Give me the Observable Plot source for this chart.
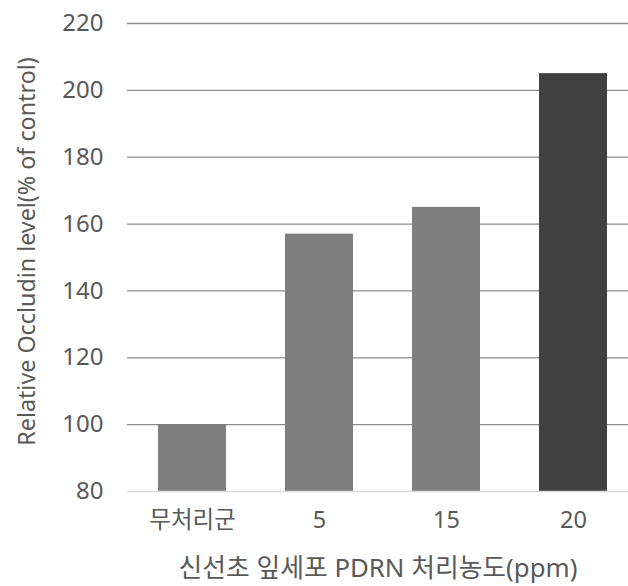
<!DOCTYPE html>
<html>
<head>
<meta charset="utf-8">
<script src="https://cdn.jsdelivr.net/npm/d3@7"></script>
<script src="https://cdn.jsdelivr.net/npm/@observablehq/plot@0.6"></script>
<style>
  html, body { margin: 0; padding: 0; background: #fff; }
  #chart svg { display: block; font-family: "Noto Sans", "Noto Sans CJK KR", sans-serif; }
</style>
</head>
<body>
<div id="chart"></div>
<script>
const categories = ["무처리군", "5", "15", "20"];
const values = [100, 157, 165, 205];
const barColors = ["#7f7f7f", "#7f7f7f", "#7f7f7f", "#404040"];
const yTicks = [80, 100, 120, 140, 160, 180, 200, 220];
const xTitle = "신선초 잎세포 PDRN 처리농도(ppm)";
const yTitle = "Relative Occludin level(% of control)";

const data = categories.map((c, i) => ({category: c, value: values[i], color: barColors[i]}));

const chart = Plot.plot({
  width: 628,
  height: 586,
  marginLeft: 127,
  marginRight: 0,
  marginTop: 23,
  marginBottom: 95,
  style: {fontFamily: '"Noto Sans", "Noto Sans CJK KR", sans-serif', background: "#fff"},
  x: {domain: categories, range: [127, 637], paddingInner: 0.467, paddingOuter: 0.233},
  y: {domain: [80, 220]},
  marks: [
    Plot.ruleY(yTicks.filter(d => d > 80), {stroke: "#8c8c8c", strokeWidth: 1.3}),
    Plot.barY(data, {x: "category", y1: 80, y2: "value", fill: "color"}),
    Plot.ruleY([80], {stroke: "#d9d9d9", strokeWidth: 1.5}),
    Plot.axisY({
      ticks: yTicks, tickSize: 0, tickPadding: 24, fontSize: 24, color: "#595959",
      label: yTitle, labelAnchor: "center", labelArrow: "none", labelOffset: 109
    }),
    Plot.axisX({
      tickSize: 0, tickPadding: 20, fontSize: 23.5, color: "#595959",
      label: xTitle, labelAnchor: "center", labelArrow: "none", labelOffset: 85
    })
  ]
});

chart.querySelectorAll('g[aria-label="y-axis label"] text').forEach(t => { t.setAttribute("font-size", 23.3); t.setAttribute("dx", "6"); });
chart.querySelectorAll('g[aria-label="x-axis label"] text').forEach(t => t.setAttribute("font-size", 25.8));
document.getElementById("chart").appendChild(chart);
</script>
</body>
</html>
